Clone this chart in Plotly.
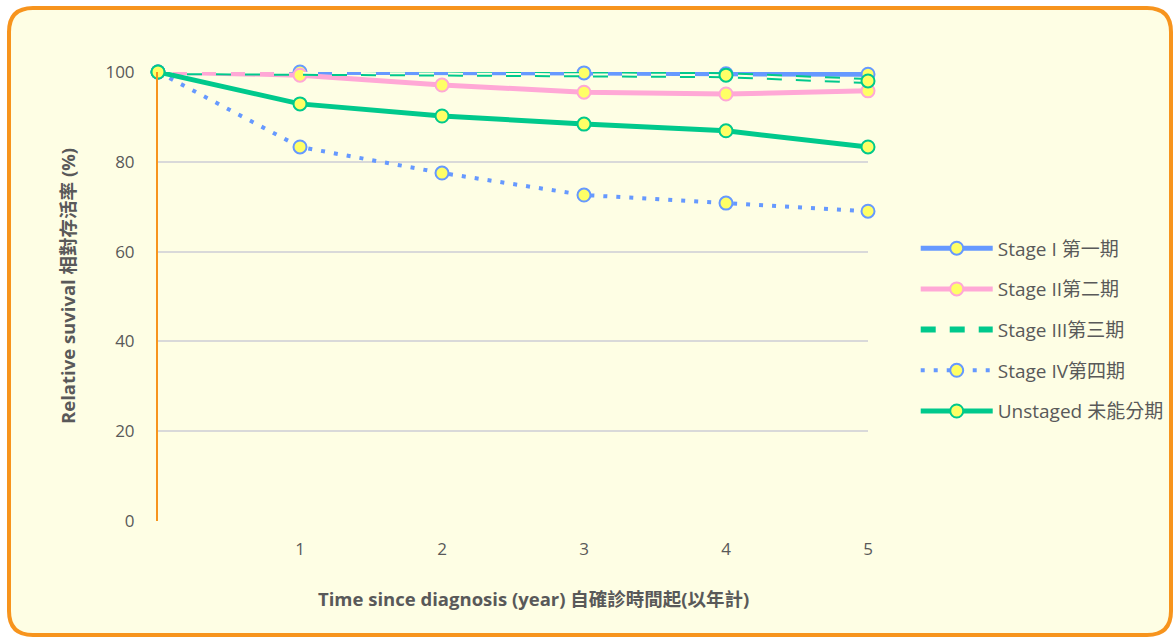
import plotly.graph_objects as go

years = [0, 1, 2, 3, 4, 5]
stage1 = [100, 100, None, 99.8, 99.6, 99.5]
stage2 = [100, 99.3, 97.1, 95.5, 95.1, 95.8]
stage3 = [100, None, None, None, 99.3, 98.0]
stage4 = [100, 83.3, 77.5, 72.6, 70.8, 69.0]
unstaged = [100, 92.9, 90.2, 88.4, 86.9, 83.3]
names = ["Stage I 第一期", "Stage II第二期", "Stage III第三期", "Stage IV第四期", "Unstaged 未能分期"]
x_ticks = [1, 2, 3, 4, 5]
y_ticks = [0, 20, 40, 60, 80, 100]
x_title = "<b>Time since diagnosis (year) 自確診時間起(以年計)</b>"
y_title = "<b>Relative suvival 相對存活率 (%)</b>"

BG = "#FEFEE4"
FONT = "Open Sans, Noto Sans CJK TC, sans-serif"
GREY = "#595959"
W, H = 1174, 638
L, R, T, B = 158, 868, 72, 521

def mk(col):
    return dict(symbol="circle", size=13, color="#FFFF66", line=dict(color=col, width=2))

fig = go.Figure()
fig.add_trace(go.Scatter(x=years, y=stage1, name=names[0], mode="lines+markers",
                         line=dict(color="#6699FF", width=5), marker=mk("#6699FF"),
                         connectgaps=True, legendgroup="a", cliponaxis=False))
fig.add_trace(go.Scatter(x=years, y=stage2, name=names[1], mode="lines+markers",
                         line=dict(color="#FFA8D6", width=5), marker=mk("#FFA8D6"),
                         legendgroup="b", cliponaxis=False))
fig.add_trace(go.Scatter(x=years, y=stage3, name=names[2], mode="lines",
                         line=dict(color="#00C98C", width=6, dash="15px,14px"),
                         connectgaps=True, legendgroup="c", cliponaxis=False))
fig.add_trace(go.Scatter(x=years, y=stage3, name=names[2], mode="lines+markers",
                         line=dict(color=BG, width=2, dash="15px,14px"), marker=mk("#00C98C"),
                         connectgaps=True, legendgroup="c", showlegend=False, cliponaxis=False))
fig.add_trace(go.Scatter(x=years, y=stage4, name=names[3], mode="lines+markers",
                         line=dict(color="#6699FF", width=4, dash="4px,9px"), marker=mk("#6699FF"),
                         legendgroup="d", cliponaxis=False))
fig.add_trace(go.Scatter(x=years, y=unstaged, name=names[4], mode="lines+markers",
                         line=dict(color="#00C98C", width=5), marker=mk("#00C98C"),
                         legendgroup="e", cliponaxis=False))

def px(xp):
    return (xp - L) / (R - L)

def py(yp):
    return (B - yp) / (B - T)

x0, x1, y0, y1, r = 9, 1171, 8, 635, 24
path = (f"M {px(x0+r)},{py(y0)} L {px(x1-r)},{py(y0)} Q {px(x1)},{py(y0)} {px(x1)},{py(y0+r)} "
        f"L {px(x1)},{py(y1-r)} Q {px(x1)},{py(y1)} {px(x1-r)},{py(y1)} "
        f"L {px(x0+r)},{py(y1)} Q {px(x0)},{py(y1)} {px(x0)},{py(y1-r)} "
        f"L {px(x0)},{py(y0+r)} Q {px(x0)},{py(y0)} {px(x0+r)},{py(y0)} Z")

fig.update_layout(
    width=W, height=H,
    margin=dict(l=L, r=W - R, t=T, b=H - B),
    paper_bgcolor="white", plot_bgcolor="rgba(0,0,0,0)",
    font=dict(family=FONT, color=GREY, size=17),
    shapes=[dict(type="path", xref="paper", yref="paper", path=path,
                 fillcolor=BG, line=dict(color="#F7941D", width=4), layer="below")],
    annotations=[
        dict(text=x_title, xref="paper", yref="paper", x=px(533), y=py(598),
             xanchor="center", yanchor="middle", showarrow=False,
             font=dict(size=18.5, color=GREY)),
        dict(text=y_title, xref="paper", yref="paper", x=px(67), y=py(286),
             xanchor="center", yanchor="middle", showarrow=False, textangle=-90,
             font=dict(size=18.5, color=GREY)),
    ],
    xaxis=dict(range=[0, 5], tickvals=x_ticks, showgrid=False, zeroline=False,
               showline=False, ticks="", ticklabelstandoff=16,
               tickfont=dict(size=17, color=GREY)),
    yaxis=dict(range=[0, 100], tickvals=y_ticks, showgrid=True, gridcolor="#D9D9D9",
               gridwidth=1.5, zeroline=False, showline=True, linecolor="#F7941D", linewidth=2,
               ticks="", ticklabelstandoff=18, tickfont=dict(size=17, color=GREY)),
    legend=dict(xref="container", yref="container", x=0.78, y=0.483, yanchor="middle",
                xanchor="left", font=dict(size=19, color=GREY), bgcolor="rgba(0,0,0,0)",
                tracegroupgap=13, traceorder="grouped", itemwidth=72),
)

fig.write_html("out.html", config={"displayModeBar": False},
               post_script="document.body.style.margin='0px';")
